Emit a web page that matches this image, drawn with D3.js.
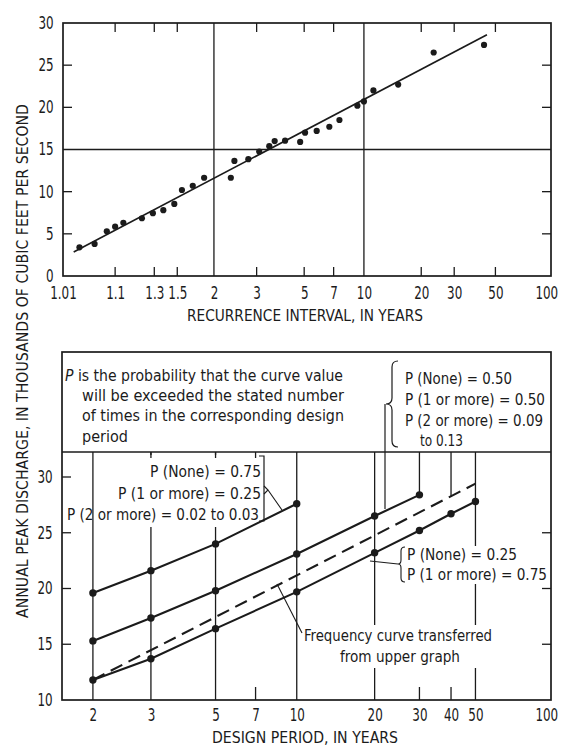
<!DOCTYPE html>
<html>
<head>
<meta charset="utf-8">
<script src="https://cdn.jsdelivr.net/npm/d3@7"></script>
<style>
  body { margin: 0; background: #fff; }
  text { font-family: "Liberation Sans Narrow", "DejaVu Sans Condensed", "Roboto Condensed", "Liberation Sans", sans-serif; fill: #1b1b1b; }
</style>
</head>
<body>
<svg id="chart" width="562" height="746"></svg>
<script>
/// DATA ///
// upper graph: annual peaks, [recurrence interval (yr), discharge (1000 cfs)]
const annualPeaks = [
  [1.024, 3.4], [1.047, 3.8], [1.075, 5.3], [1.10, 5.85], [1.13, 6.3],
  [1.22, 6.85], [1.29, 7.45], [1.37, 7.8], [1.47, 8.55], [1.55, 10.2],
  [1.68, 10.7], [1.84, 11.65], [2.33, 11.65], [2.41, 13.65], [2.76, 13.85],
  [3.08, 14.75], [3.42, 15.4], [3.62, 16.0], [4.05, 16.05], [4.78, 15.9],
  [5.05, 17.0], [5.76, 17.2], [6.66, 17.7], [7.49, 18.5], [9.25, 20.2],
  [10.0, 20.7], [11.2, 22.0], [15.1, 22.7], [23.3, 26.5], [43.4, 27.4]
];
const fittedCurve = [[1.018, 2.85], [45, 28.6]];

const recurrenceTicks = [1.01, 1.1, 1.3, 1.5, 2, 3, 5, 7, 10, 20, 30, 50, 100];
const recurrenceLabels = ["1.01", "1.1", "1.3", "1.5", "2", "3", "5", "7", "10", "20", "30", "50", "100"];
const upperMinorT = [1.1, 1.3, 1.5, 3, 5, 7, 20, 30, 50];
const upperGridT = [2, 10];
const upperQTicks = [0, 5, 10, 15, 20, 25, 30];
const upperSideQ = [5, 10, 20, 25];
const upperGridQ = [15];

// lower graph: design period curves, [design period (yr), discharge]
const curveNone75 = [[2, 19.6], [3, 21.6], [5, 24.0], [10, 27.6]];
const curveNone50 = [[2, 15.3], [3, 17.35], [5, 19.8], [10, 23.1], [20, 26.5], [30, 28.4]];
const curveNone25 = [[2, 11.8], [3, 13.7], [5, 16.4], [10, 19.7], [20, 23.2], [30, 25.2], [40, 26.7], [50, 27.8]];
const transferredCurve = [[2, 11.8], [50, 29.4]];

const designTicks = [2, 3, 5, 7, 10, 20, 30, 40, 50, 100];
const designLabels = ["2", "3", "5", "7", "10", "20", "30", "40", "50", "100"];
const lowerGridT = [2, 3, 5, 10, 20, 50];
const lowerBottomTicks = [7, 30, 40];
const lowerTopTicks = [3, 5, 7];
const lowerQTicks = [10, 15, 20, 25, 30];
const lowerLeftQ = [15, 20, 25, 30];
const lowerRightQ = [15, 20, 25];

const INK = "#1b1b1b";
const svg = d3.select("#chart");

// extreme-value (Gumbel) probability paper
const gumbel = T => -Math.log(-Math.log(1 - 1 / T));

// narrow, tall tick labels like the original lettering
function styleTicks(g, last) {
  g.attr("font-size", 17);
  g.select(".domain").remove();
  g.selectAll(".tick text").attr("transform", "scale(0.78,1)");
  if (last) g.selectAll(".tick:last-of-type text").attr("dx", -6);
}

/////// UPPER GRAPH ///////
const up = { left: 63, right: 551, top: 23, bottom: 276 };
const xUp = d3.scaleLinear().domain([gumbel(1.01), gumbel(100)]).range([up.left, up.right]);
const yUp = d3.scaleLinear().domain([0, 30]).range([up.bottom, up.top]);
const xu = T => xUp(gumbel(T));

const g1 = svg.append("g");

// grid lines
g1.selectAll(".vgrid").data(upperGridT).join("line")
  .attr("x1", d => xu(d)).attr("x2", d => xu(d))
  .attr("y1", up.top).attr("y2", up.bottom)
  .attr("stroke", INK).attr("stroke-width", 1.3);
g1.selectAll(".hgrid").data(upperGridQ).join("line")
  .attr("x1", up.left).attr("x2", up.right)
  .attr("y1", d => yUp(d)).attr("y2", d => yUp(d))
  .attr("stroke", INK).attr("stroke-width", 1.3);

// inward ticks
upperMinorT.forEach(t => {
  g1.append("line").attr("x1", xu(t)).attr("x2", xu(t)).attr("y1", up.top).attr("y2", up.top + 9)
    .attr("stroke", INK).attr("stroke-width", 1.3);
  g1.append("line").attr("x1", xu(t)).attr("x2", xu(t)).attr("y1", up.bottom).attr("y2", up.bottom - 9)
    .attr("stroke", INK).attr("stroke-width", 1.3);
});
upperSideQ.forEach(q => {
  g1.append("line").attr("x1", up.left).attr("x2", up.left + 9).attr("y1", yUp(q)).attr("y2", yUp(q))
    .attr("stroke", INK).attr("stroke-width", 1.3);
  g1.append("line").attr("x1", up.right).attr("x2", up.right - 9).attr("y1", yUp(q)).attr("y2", yUp(q))
    .attr("stroke", INK).attr("stroke-width", 1.3);
});

// frame
g1.append("rect")
  .attr("x", up.left).attr("y", up.top)
  .attr("width", up.right - up.left).attr("height", up.bottom - up.top)
  .attr("fill", "none").attr("stroke", INK).attr("stroke-width", 1.7);

// fitted line + points
const lineUp = d3.line().x(d => xu(d[0])).y(d => yUp(d[1]));
g1.append("path").datum(fittedCurve).attr("d", lineUp)
  .attr("fill", "none").attr("stroke", INK).attr("stroke-width", 1.7);
g1.selectAll(".pt").data(annualPeaks).join("circle")
  .attr("cx", d => xu(d[0])).attr("cy", d => yUp(d[1])).attr("r", 3.1)
  .attr("fill", INK);

// axes (labels only)
svg.append("g").attr("transform", `translate(0,${up.bottom})`)
  .call(d3.axisBottom(xUp).tickValues(recurrenceTicks.map(gumbel))
    .tickFormat((d, i) => recurrenceLabels[i]).tickSize(0).tickPadding(11))
  .call(g => styleTicks(g, true));
svg.append("g").attr("transform", `translate(${up.left},0)`)
  .call(d3.axisLeft(yUp).tickValues(upperQTicks).tickSize(0).tickPadding(12))
  .call(g => styleTicks(g, false));

svg.append("text").attr("x", 305).attr("y", 321).attr("text-anchor", "middle")
  .attr("font-size", 16).attr("textLength", 236).attr("lengthAdjust", "spacingAndGlyphs")
  .text("RECURRENCE INTERVAL, IN YEARS");

/////// LOWER GRAPH ///////
const lo = { left: 62, right: 551, boxTop: 352, top: 452, bottom: 700 };
const xLo = d3.scaleLinear().domain([gumbel(1.66), gumbel(100)]).range([lo.left, lo.right]);
const yLo = d3.scaleLinear().domain([10, 30]).range([lo.bottom, 477]);
const xl = T => xLo(gumbel(T));

const g2 = svg.append("g");

g2.selectAll(".vgrid").data(lowerGridT).join("line")
  .attr("x1", d => xl(d)).attr("x2", d => xl(d))
  .attr("y1", lo.top).attr("y2", lo.bottom)
  .attr("stroke", INK).attr("stroke-width", 1.3);

lowerBottomTicks.forEach(t => {
  g2.append("line").attr("x1", xl(t)).attr("x2", xl(t)).attr("y1", lo.bottom).attr("y2", lo.bottom - 13)
    .attr("stroke", INK).attr("stroke-width", 1.3);
});
lowerLeftQ.forEach(q => {
  g2.append("line").attr("x1", lo.left).attr("x2", lo.left + 9).attr("y1", yLo(q)).attr("y2", yLo(q))
    .attr("stroke", INK).attr("stroke-width", 1.3);
});
lowerRightQ.forEach(q => {
  g2.append("line").attr("x1", lo.right).attr("x2", lo.right - 9).attr("y1", yLo(q)).attr("y2", yLo(q))
    .attr("stroke", INK).attr("stroke-width", 1.3);
});

// leaders hanging from the top edge at 30 and 40 years
const interpG = (curve, T) => {
  const a = curve[0], b = curve[curve.length - 1];
  const f = (gumbel(T) - gumbel(a[0])) / (gumbel(b[0]) - gumbel(a[0]));
  return a[1] + f * (b[1] - a[1]);
};
[[30, curveNone50[5][1]], [40, interpG(transferredCurve, 40)]].forEach(d => {
  g2.append("line").attr("x1", xl(d[0])).attr("x2", xl(d[0]))
    .attr("y1", lo.top).attr("y2", yLo(d[1]))
    .attr("stroke", INK).attr("stroke-width", 1.3);
});

// white patches under the labels (they hide the grid lines)
g2.append("rect").attr("x", xl(2) + 2).attr("y", lo.top + 3).attr("width", 170).attr("height", 72).attr("fill", "#fff");
g2.append("rect").attr("x", 406).attr("y", 546).attr("width", 143).attr("height", 38).attr("fill", "#fff");
g2.append("rect").attr("x", 301).attr("y", 625).attr("width", 196).attr("height", 43).attr("fill", "#fff");
lowerTopTicks.forEach(t => {
  g2.append("line").attr("x1", xl(t)).attr("x2", xl(t)).attr("y1", lo.top).attr("y2", lo.top + 6)
    .attr("stroke", INK).attr("stroke-width", 1.3);
});

// frame + separator of the note box
g2.append("rect")
  .attr("x", lo.left).attr("y", lo.boxTop)
  .attr("width", lo.right - lo.left).attr("height", lo.bottom - lo.boxTop)
  .attr("fill", "none").attr("stroke", INK).attr("stroke-width", 1.7);
g2.append("line").attr("x1", lo.left).attr("x2", lo.right).attr("y1", lo.top).attr("y2", lo.top)
  .attr("stroke", INK).attr("stroke-width", 1.7);

// curves
const lineLo = d3.line().x(d => xl(d[0])).y(d => yLo(d[1]));
g2.append("path").datum(transferredCurve).attr("d", lineLo)
  .attr("fill", "none").attr("stroke", INK).attr("stroke-width", 2.1)
  .attr("stroke-dasharray", "13,7");
[curveNone75, curveNone50, curveNone25].forEach(c => {
  g2.append("path").datum(c).attr("d", lineLo)
    .attr("fill", "none").attr("stroke", INK).attr("stroke-width", 2.1);
  g2.selectAll(null).data(c).join("circle")
    .attr("cx", d => xl(d[0])).attr("cy", d => yLo(d[1])).attr("r", 3.7)
    .attr("fill", INK);
});

// axes (labels only)
svg.append("g").attr("transform", `translate(0,${lo.bottom})`)
  .call(d3.axisBottom(xLo).tickValues(designTicks.map(gumbel))
    .tickFormat((d, i) => designLabels[i]).tickSize(0).tickPadding(9))
  .call(g => styleTicks(g, true));
svg.append("g").attr("transform", `translate(${lo.left},0)`)
  .call(d3.axisLeft(yLo).tickValues(lowerQTicks).tickSize(0).tickPadding(12))
  .call(g => styleTicks(g, false));

svg.append("text").attr("x", 305).attr("y", 743).attr("text-anchor", "middle")
  .attr("font-size", 16).attr("textLength", 186).attr("lengthAdjust", "spacingAndGlyphs")
  .text("DESIGN PERIOD, IN YEARS");

// shared y title
svg.append("text")
  .attr("transform", "translate(28,361) rotate(-90)")
  .attr("text-anchor", "middle").attr("font-size", 16)
  .attr("textLength", 514).attr("lengthAdjust", "spacingAndGlyphs")
  .text("ANNUAL PEAK DISCHARGE, IN THOUSANDS OF CUBIC FEET PER SECOND");

/////// NOTES ///////
const note = (x, y, str, opts = {}) => {
  const t = svg.append("text").attr("x", x).attr("y", y).attr("font-size", opts.size || 16)
    .attr("text-anchor", opts.anchor || "start");
  if (opts.len) t.attr("textLength", opts.len).attr("lengthAdjust", "spacingAndGlyphs");
  if (opts.italicP) {
    t.append("tspan").attr("font-style", "italic").text("P");
    t.append("tspan").text(str);
  } else t.text(str);
  return t;
};

note(65, 381, " is the probability that the curve value", { italicP: true, len: 278 });
note(82, 401, "will be exceeded the stated number", { len: 262 });
note(82, 421, "of times in the corresponding design", { len: 262 });
note(82, 442, "period");

// P = 0.50 group
note(405, 384, "P (None) = 0.50", { len: 107 });
note(405, 405, "P (1 or more) = 0.50", { len: 140 });
note(405, 426, "P (2 or more) = 0.09", { len: 138 });
note(420, 446, "to 0.13", { len: 43 });
svg.append("path")
  .attr("d", "M398,361 Q392,361 392,367 L392,398 Q392,404 386,404 Q392,404 392,410 L392,441 Q392,447 398,447")
  .attr("fill", "none").attr("stroke", INK).attr("stroke-width", 1.2);
svg.append("line").attr("x1", 385).attr("x2", 385).attr("y1", 404).attr("y2", 509)
  .attr("stroke", INK).attr("stroke-width", 1.2);

// P = 0.75 group
note(261, 477, "P (None) = 0.75", { anchor: "end", len: 111 });
note(261, 499, "P (1 or more) = 0.25", { anchor: "end", len: 143 });
note(259, 520, "P (2 or more) = 0.02 to 0.03", { anchor: "end", len: 192 });
svg.append("path")
  .attr("d", "M259,456 L264,456 L264,521 L259,521")
  .attr("fill", "none").attr("stroke", INK).attr("stroke-width", 1.2);
svg.append("path")
  .attr("d", "M264,486 L268,490 L264,494 M268,490 L282,510")
  .attr("fill", "none").attr("stroke", INK).attr("stroke-width", 1.1);

// P = 0.25 group
note(407, 560, "P (None) = 0.25", { len: 110 });
note(407, 580, "P (1 or more) = 0.75", { len: 140 });
svg.append("path")
  .attr("d", "M405,547 Q401,547 401,551 L401,560 Q401,564 398,564 Q401,564 401,568 L401,578 Q401,582 405,582")
  .attr("fill", "none").attr("stroke", INK).attr("stroke-width", 1.1);
svg.append("line").attr("x1", 398).attr("x2", 370).attr("y1", 564).attr("y2", 561)
  .attr("stroke", INK).attr("stroke-width", 1.1);

// transferred-curve label
note(398, 641, "Frequency curve transferred", { anchor: "middle", len: 188 });
note(400, 662, "from upper graph", { anchor: "middle", len: 120 });
svg.append("line").attr("x1", 302).attr("x2", 277).attr("y1", 633).attr("y2", 584)
  .attr("stroke", INK).attr("stroke-width", 1.1);
</script>
</body>
</html>
